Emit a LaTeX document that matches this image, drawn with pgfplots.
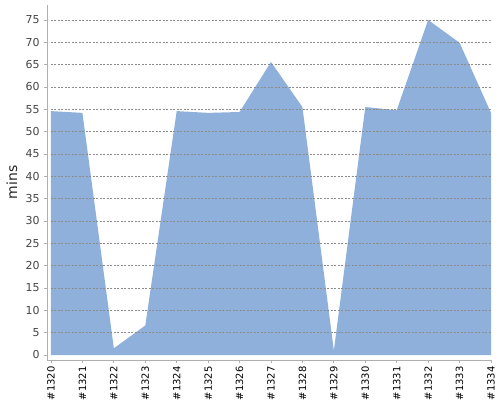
\documentclass[border=0pt]{standalone}
\usepackage{fontspec}
\setmainfont{DejaVu Sans}
\usepackage{pgfplots}
\pgfplotsset{compat=1.18}
\definecolor{areablue}{RGB}{143,176,218}
\definecolor{axgray}{RGB}{175,175,175}
\definecolor{gridgray}{RGB}{140,140,140}
\definecolor{ticktext}{RGB}{68,68,68}
\begin{document}
\begin{tikzpicture}[x=1bp,y=1bp]
\useasboundingbox (-47,-40) rectangle (453,360);
\begin{axis}[
  at={(0,0)}, anchor=south west,
  scale only axis, width=444bp, height=355bp,
  xmin=-0.127, xmax=14, ymin=-1.12, ymax=78.35,
  axis lines*=left,
  axis line style={draw=axgray, line width=0.8bp, -},
  xtick={0,...,14},
  xticklabels={\#1320,\#1321,\#1322,\#1323,\#1324,\#1325,\#1326,\#1327,\#1328,\#1329,\#1330,\#1331,\#1332,\#1333,\#1334},
  ytick={0,5,...,75},
  tick style={draw=axgray, line width=0.8bp},
  tick align=outside, major tick length=3bp,
  /pgf/number format/assume math mode=true,
  yticklabel style={font=\fontsize{11}{13}\selectfont, text=ticktext, xshift=-1bp},
  xticklabel style={rotate=90, anchor=east, font=\fontsize{10}{12}\selectfont, text=black, yshift=0bp},
  ylabel={mins},
  every axis y label/.style={at={(axis description cs:0,0.5)}, xshift=-35bp, rotate=90, anchor=center, font=\fontsize{14}{16}\selectfont, text=black!85},
]
\addplot[fill=areablue, draw=none] coordinates {
(0,54.6) (1,54.2) (2,1.5) (3,6.6) (4,54.6) (5,54.2) (6,54.4) (7,65.6)
(8,55.5) (9,1.0) (10,55.5) (11,54.8) (12,75.0) (13,69.9) (14,54.2)
} \closedcycle;
\pgfplotsinvokeforeach{5,10,...,75}{
  \draw[gridgray, dash pattern=on 2bp off 1.5bp, line width=0.5bp] (axis cs:0,#1) -- (axis cs:14,#1);
}
\end{axis}
\end{tikzpicture}
\end{document}
